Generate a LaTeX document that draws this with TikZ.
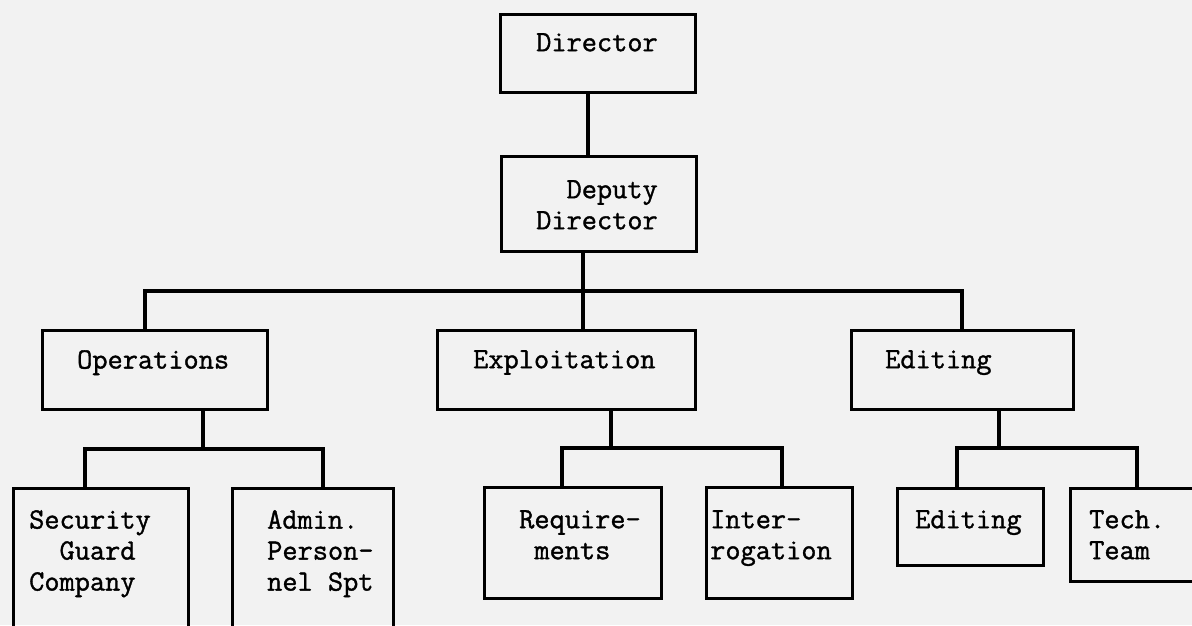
\documentclass[tikz,border=0pt]{standalone}
\usepackage{fontspec}
\newfontfamily\typewr{Latin Modern Mono}[BoldFont={Latin Modern Mono},BoldFeatures={FakeBold=1.2}]
\usetikzlibrary{positioning}
\definecolor{paper}{gray}{0.95}

\begin{document}
\begin{tikzpicture}[x=1pt,y=-1pt,
  box/.style={draw,rectangle,inner sep=0pt,line width=3.2pt,anchor=north west},
  txt/.style={inner sep=0pt,anchor=north west,align=left,
    font=\typewr\bfseries\fontsize{29.5}{31}\selectfont},
  link/.style={line width=3.4pt}]
  \fill[paper] (0,0) rectangle (1192,625);
  \useasboundingbox (0,0) rectangle (1192,625);

  % top
  \node[box,minimum width=195pt,minimum height=78pt] (dir) at (499,13) {};
  \node[txt,below right=20pt and 37pt of dir.north west] (dirtxt) {Director};
  \node[box,minimum width=195pt,minimum height=95pt] (dep) at (500,155) {};
  \node[txt,below right=25pt and 36pt of dep.north west] (deptxt) {~~Deputy\\Director};

  % second row
  \node[box,minimum width=225pt,minimum height=79pt] (ops) at (41,329) {};
  \node[txt,below right=21pt and 36pt of ops.north west] (opstxt) {Operations};
  \node[box,minimum width=258pt,minimum height=79pt] (expl) at (436,329) {};
  \node[txt,below right=21pt and 37pt of expl.north west] (expltxt) {Exploitation};
  \node[box,minimum width=222pt,minimum height=79pt] (edit) at (850,329) {};
  \node[txt,below right=21pt and 35pt of edit.north west] (edittxt) {Editing};

  % third row
  \node[box,minimum width=175pt,minimum height=160pt] (sec) at (12,487) {};
  \node[txt,below right=23pt and 17pt of sec.north west] (sectxt) {Security\\~~Guard\\Company};
  \node[box,minimum width=161pt,minimum height=160pt] (adm) at (231,487) {};
  \node[txt,below right=23pt and 36pt of adm.north west] (admtxt) {Admin.\\Person-\\nel Spt};
  \node[box,minimum width=177pt,minimum height=111pt] (req) at (483,486) {};
  \node[txt,below right=24pt and 36pt of req.north west] (reqtxt) {Require-\\~ments};
  \node[box,minimum width=146pt,minimum height=111pt] (int) at (705,486) {};
  \node[txt,below right=24pt and 5pt of int.north west] (inttxt) {Inter-\\rogation};
  \node[box,minimum width=146pt,minimum height=77pt] (edt) at (896,487) {};
  \node[txt,below right=23pt and 19pt of edt.north west] (edttxt) {Editing};
  \node[box,minimum width=140pt,minimum height=93pt] (tech) at (1069,487) {};
  \node[txt,below right=23pt and 20pt of tech.north west] (techtxt) {Tech.\\Team};

  \coordinate (bus) at (583,291);
  \coordinate (opsbus) at (203,449);
  \coordinate (explbus) at (611,448);
  \coordinate (editbus) at (999,448);

  \draw[link] ([xshift=89pt]dir.south west) -- ([xshift=88pt]dep.north west);
  \draw[link] ([xshift=83pt]dep.south west) -- (bus) -- ([xshift=147pt]expl.north west);
  \draw[link] ([xshift=104pt]ops.north west) |- (bus) -| ([xshift=112pt]edit.north west);

  \draw[link] ([xshift=162pt]ops.south west) -- (opsbus);
  \draw[link] ([xshift=73pt]sec.north west) |- (opsbus) -| ([xshift=92pt]adm.north west);
  \draw[link] ([xshift=175pt]expl.south west) -- (explbus);
  \draw[link] ([xshift=79pt]req.north west) |- (explbus) -| ([xshift=77pt]int.north west);
  \draw[link] ([xshift=149pt]edit.south west) -- (editbus);
  \draw[link] ([xshift=61pt]edt.north west) |- (editbus) -| ([xshift=68pt]tech.north west);
\end{tikzpicture}
\end{document}
